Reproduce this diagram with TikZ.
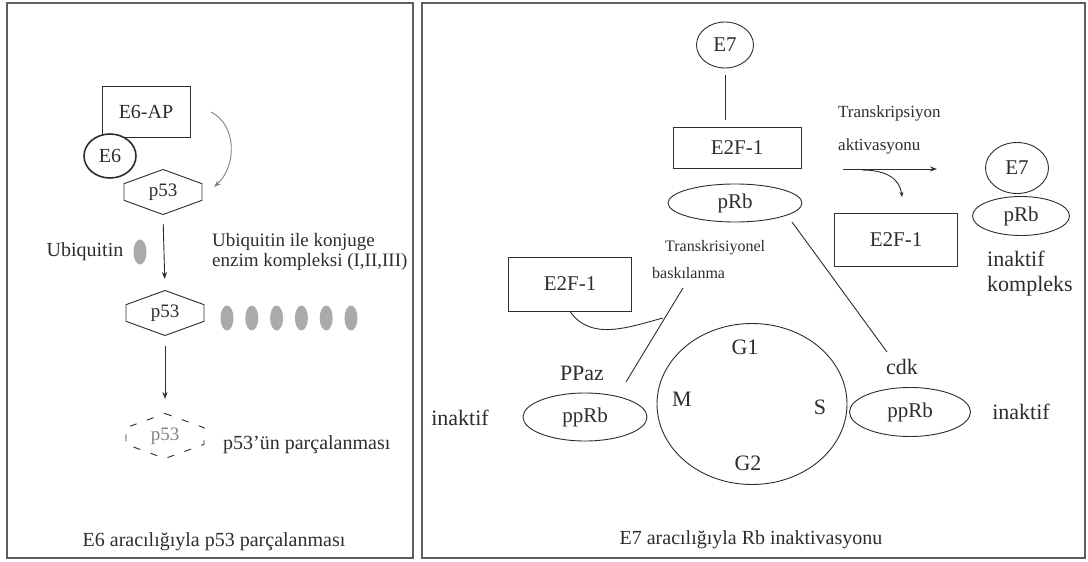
\documentclass[tikz,border=0pt]{standalone}
\usepackage{fontspec}
\setmainfont{Liberation Serif}
\usetikzlibrary{shapes,arrows.meta,positioning}
\definecolor{inkcolor}{RGB}{45,45,45}
\definecolor{blobcolor}{RGB}{170,170,170}
\definecolor{framecolor}{RGB}{95,95,95}

\begin{document}
\begin{tikzpicture}[x=1pt, y=-1pt,
    panel/.style={draw=framecolor, line width=1.6pt},
    box/.style={rectangle, draw=inkcolor, line width=0.9pt, inner sep=0pt, text=inkcolor, font=\fontsize{21}{24}\selectfont},
    oval/.style={ellipse, draw=inkcolor, line width=0.9pt, inner sep=0pt, text=inkcolor, font=\fontsize{21}{24}\selectfont},
    hexa/.style={signal, signal to=north and south, signal pointer angle=140, draw=inkcolor, line width=0.9pt, inner sep=0pt, minimum width=78pt, minimum height=21pt, text=inkcolor, font=\fontsize{19}{22}\selectfont},
    blob/.style={ellipse, fill=blobcolor, minimum width=13pt, minimum height=25pt, inner sep=0pt},
    lbl/.style={inner sep=0pt, text=inkcolor, font=\fontsize{20}{25}\selectfont},
    biglbl/.style={inner sep=0pt, text=inkcolor, font=\fontsize{22}{25}\selectfont},
    small/.style={inner sep=0pt, text=inkcolor, font=\fontsize{17}{18}\selectfont},
    link/.style={draw=inkcolor, line width=0.9pt},
    arrow/.style={link, -{Stealth[length=7pt, width=5pt]}},
]
    \useasboundingbox (0,0) rectangle (1088,562);

    % Panels
    \draw[panel] (7,3) rectangle (413,558);
    \draw[panel] (422,3) rectangle (1085,558);

    % ---- Left panel: E6 ----
    \node[box, minimum width=88pt, minimum height=51pt, font=\fontsize{20}{24}\selectfont] (e6ap) at (146,112) {E6-AP};
    \node[oval, fill=white, line width=1.6pt, minimum width=52pt, minimum height=44pt, font=\fontsize{20}{24}\selectfont] (e6) at (110,156) {E6};
    \node[hexa] (p53a) at (163,192) {p53};

    \node[lbl] (ubq) at (85,252) {Ubiquitin};
    \node[blob] (ub) at (140,252) {};
    \node[lbl, anchor=west, align=left, font=\fontsize{19}{20}\selectfont] (enzim) at (212,252) {Ubiquitin ile konjuge\\enzim kompleksi (I,II,III)};

    \node[hexa] (p53b) at (165,313) {p53};
    \foreach \i in {0,...,5} {
        \node[blob] (ubc\i) at (227+24.8*\i,318) {};
    }

    \node[hexa, dash pattern=on 7pt off 11pt, text=inkcolor!60] (p53c) at (165,436) {p53};
    \node[lbl, anchor=west] (degr) at (223,445) {p53’ün parçalanması};

    \node[lbl] (cap1) at (214,542) {E6 aracılığıyla p53 parçalanması};

    % Arrows
    \coordinate (ca) at (211,112);
    \coordinate (cb) at (214,187);
    \draw[arrow, draw=gray] (ca) .. controls (237,125) and (237,166) .. (cb);
    \draw[arrow, shorten <=9pt, shorten >=11pt] (p53a.south) -- (p53b.north);
    \draw[arrow, shorten <=10pt, shorten >=14pt] (p53b.south) -- (p53c.north);

    % ---- Right panel: E7 ----
    \node[oval, minimum width=57pt, minimum height=46pt] (e7a) at (725,45) {E7};
    \node[box, minimum width=128pt, minimum height=41pt] (e2fa) at (737,148) {E2F-1};
    \node[oval, minimum width=134pt, minimum height=38pt] (prba) at (735,203) {pRb};
    \node[small, anchor=west, font=\fontsize{16}{18}\selectfont] (trs) at (665,248) {Transkrisiyonel};
    \node[small, anchor=west, font=\fontsize{16}{18}\selectfont] (bsk) at (652,273) {baskılanma};

    \node[box, minimum width=123pt, minimum height=54pt] (e2fb) at (570,284) {E2F-1};
    \node[biglbl] (ppaz) at (582,373) {PPaz};
    \node[oval, minimum width=124pt, minimum height=48pt] (pprba) at (585,417) {ppRb};
    \node[biglbl] (inaa) at (460,418) {inaktif};

    \node[oval, minimum width=190pt, minimum height=161pt] (cycle) at (752,404) {};
    \node[biglbl] (g1) at (745,347) {G1};
    \node[biglbl] (mph) at (682,399) {M};
    \node[biglbl] (sph) at (820,407) {S};
    \node[biglbl] (g2) at (748,463) {G2};

    \node[biglbl] (cdk) at (902,367) {cdk};
    \node[oval, minimum width=121pt, minimum height=49pt] (pprbb) at (910,412) {ppRb};
    \node[biglbl] (inab) at (1021,412) {inaktif};

    \node[small, anchor=west] (tra) at (838,113) {Transkripsiyon};
    \node[small, anchor=west] (akt) at (838,146) {aktivasyonu};
    \node[box, minimum width=123pt, minimum height=53pt] (e2fc) at (896,240) {E2F-1};
    \node[oval, minimum width=63pt, minimum height=51pt] (e7b) at (1017,168) {E7};
    \node[oval, minimum width=97pt, minimum height=39pt] (prbb) at (1021,216) {pRb};
    \node[biglbl, anchor=west, align=left] (inkmp) at (987,274) {inaktif\\kompleks};

    \node[lbl] (cap2) at (751,540) {E7 aracılığıyla Rb inaktivasyonu};

    % Connectors
    \draw[link, shorten <=7pt, shorten >=7pt] (e7a.south) -- (e7a.south |- e2fa.north);
    \coordinate (ka) at (792,222);
    \coordinate (kb) at (887,352);
    \draw[link] (ka) -- (kb);
    \coordinate (pa) at (683,288);
    \coordinate (pb) at (626,382);
    \coordinate (pc) at (663,318);
    \draw[link] (pa) -- (pb);
    \draw[link] (e2fb.south) to[out=-55, in=195] (pc);
    \coordinate (ta) at (843,169);
    \coordinate (tb) at (937,169);
    \coordinate (tc) at (862,170);
    \coordinate (td) at (902,197);
    \draw[arrow] (ta) -- (tb);
    \draw[link, -{Stealth[length=5pt, width=4pt]}] (tc) .. controls (888,170) and (900,180) .. (td);
\end{tikzpicture}
\end{document}
